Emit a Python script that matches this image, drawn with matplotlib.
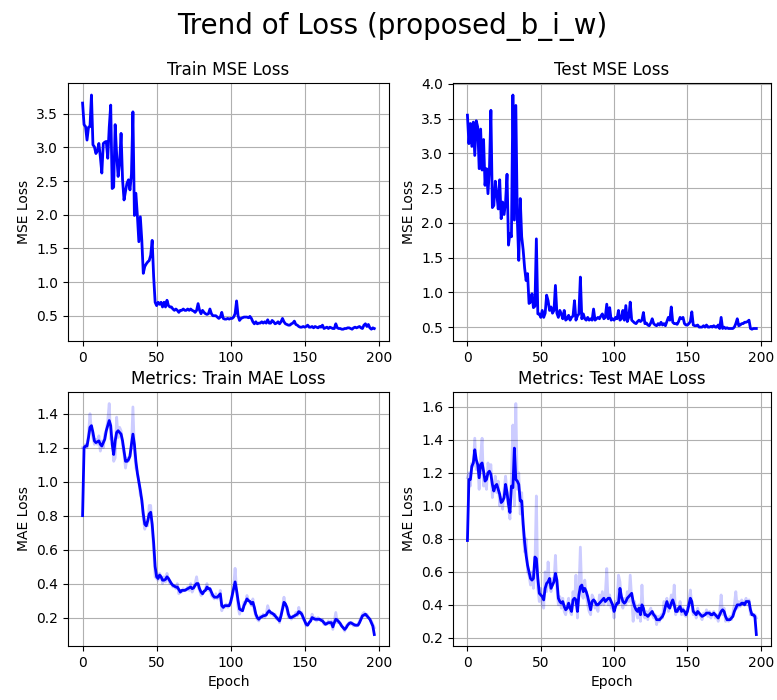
import matplotlib
matplotlib.use("Agg")
import matplotlib.pyplot as plt
import numpy as np

epochs = np.arange(198)

train_mse = [
    3.66, 3.34, 3.31, 3.11, 3.30, 3.31, 3.78, 3.04, 3.01, 2.91,
    2.95, 3.06, 2.86, 2.62, 3.06, 3.08, 3.09, 2.84, 3.30, 3.63,
    2.39, 2.41, 3.34, 2.90, 2.57, 2.77, 3.21, 2.52, 2.22, 2.35,
    2.47, 2.52, 2.37, 2.60, 3.53, 1.99, 2.32, 1.99, 1.60, 1.97,
    1.62, 1.13, 1.23, 1.27, 1.30, 1.32, 1.40, 1.62, 1.08, 0.70,
    0.65, 0.70, 0.67, 0.70, 0.63, 0.70, 0.63, 0.73, 0.65, 0.63,
    0.63, 0.60, 0.58, 0.60, 0.58, 0.55, 0.58, 0.58, 0.60, 0.58,
    0.58, 0.60, 0.58, 0.60, 0.58, 0.57, 0.55, 0.58, 0.68, 0.58,
    0.53, 0.58, 0.55, 0.53, 0.52, 0.53, 0.60, 0.53, 0.50, 0.50,
    0.50, 0.48, 0.46, 0.48, 0.55, 0.46, 0.45, 0.45, 0.46, 0.45,
    0.46, 0.46, 0.48, 0.53, 0.72, 0.50, 0.43, 0.46, 0.47, 0.48,
    0.48, 0.48, 0.47, 0.49, 0.46, 0.41, 0.38, 0.41, 0.38, 0.39,
    0.39, 0.41, 0.39, 0.41, 0.39, 0.44, 0.39, 0.39, 0.43, 0.41,
    0.38, 0.39, 0.41, 0.38, 0.41, 0.46, 0.41, 0.38, 0.37, 0.36,
    0.36, 0.38, 0.39, 0.42, 0.37, 0.36, 0.34, 0.33, 0.33, 0.34,
    0.33, 0.34, 0.36, 0.33, 0.33, 0.34, 0.32, 0.34, 0.33, 0.32,
    0.34, 0.33, 0.36, 0.31, 0.32, 0.33, 0.31, 0.33, 0.32, 0.31,
    0.31, 0.38, 0.32, 0.31, 0.31, 0.30, 0.30, 0.31, 0.31, 0.32,
    0.32, 0.31, 0.30, 0.32, 0.33, 0.32, 0.33, 0.34, 0.32, 0.31,
    0.36, 0.38, 0.34, 0.37, 0.32, 0.30, 0.32, 0.31,
]

test_mse = [
    3.55, 3.14, 3.43, 3.10, 3.45, 2.97, 3.47, 3.38, 2.78, 3.35,
    2.76, 3.20, 2.54, 2.78, 2.42, 2.78, 3.62, 2.22, 2.25, 2.60,
    2.42, 2.20, 2.62, 2.06, 2.30, 2.12, 2.30, 2.70, 1.68, 1.85,
    1.80, 3.84, 2.04, 3.69, 2.06, 1.46, 2.35, 1.80, 1.61, 1.35,
    1.17, 1.27, 0.84, 0.86, 0.98, 0.78, 0.80, 1.77, 0.69, 0.69,
    0.64, 0.74, 0.64, 0.70, 0.96, 0.88, 0.74, 0.79, 0.70, 0.74,
    1.10, 0.70, 0.64, 0.74, 0.69, 0.62, 0.74, 0.60, 0.62, 0.67,
    0.60, 0.64, 0.66, 0.88, 0.60, 0.66, 0.69, 1.22, 0.62, 0.69,
    0.62, 0.60, 0.64, 0.60, 0.62, 0.60, 0.76, 0.60, 0.62, 0.64,
    0.62, 0.66, 0.69, 0.62, 0.64, 0.83, 0.62, 0.78, 0.60, 0.62,
    0.60, 0.64, 0.62, 0.74, 0.60, 0.62, 0.74, 0.60, 0.81, 0.58,
    0.64, 0.86, 0.60, 0.58, 0.56, 0.55, 0.58, 0.60, 0.58, 0.60,
    0.71, 0.55, 0.56, 0.53, 0.52, 0.56, 0.62, 0.55, 0.53, 0.52,
    0.55, 0.53, 0.57, 0.53, 0.55, 0.52, 0.58, 0.64, 0.60, 0.79,
    0.57, 0.55, 0.55, 0.54, 0.58, 0.64, 0.62, 0.64, 0.55, 0.53,
    0.53, 0.55, 0.58, 0.72, 0.53, 0.52, 0.52, 0.53, 0.50, 0.50,
    0.50, 0.52, 0.50, 0.53, 0.50, 0.50, 0.51, 0.50, 0.52, 0.50,
    0.50, 0.53, 0.48, 0.64, 0.48, 0.50, 0.48, 0.49, 0.48, 0.48,
    0.48, 0.48, 0.50, 0.55, 0.62, 0.52, 0.53, 0.55, 0.55, 0.57,
    0.57, 0.58, 0.60, 0.48, 0.47, 0.48, 0.48, 0.48,
]

# per-epoch MAE (faint) and its smoothed curve (bold)
train_mae_raw = [
    1.20, 1.20, 1.22, 1.20, 1.28, 1.40, 1.30, 1.26, 1.22, 1.25,
    1.22, 1.27, 1.18, 1.24, 1.20, 1.28, 1.30, 1.36, 1.46, 1.25,
    1.26, 1.12, 1.14, 1.38, 1.26, 1.32, 1.30, 1.22, 1.16, 1.08,
    1.14, 1.12, 1.16, 1.20, 1.44, 1.18, 1.08, 1.06, 1.00, 0.92,
    0.90, 0.78, 0.72, 0.76, 0.74, 0.86, 0.86, 0.72, 0.60, 0.44,
    0.43, 0.42, 0.46, 0.44, 0.40, 0.44, 0.41, 0.46, 0.42, 0.40,
    0.40, 0.38, 0.39, 0.37, 0.40, 0.34, 0.36, 0.35, 0.37, 0.36,
    0.36, 0.38, 0.36, 0.40, 0.35, 0.37, 0.40, 0.44, 0.38, 0.36,
    0.33, 0.34, 0.35, 0.37, 0.40, 0.36, 0.37, 0.33, 0.32, 0.31,
    0.34, 0.31, 0.32, 0.36, 0.24, 0.27, 0.26, 0.28, 0.26, 0.27,
    0.30, 0.32, 0.38, 0.49, 0.36, 0.26, 0.22, 0.25, 0.24, 0.29,
    0.28, 0.33, 0.30, 0.29, 0.27, 0.31, 0.24, 0.21, 0.19, 0.18,
    0.21, 0.20, 0.22, 0.20, 0.22, 0.27, 0.24, 0.22, 0.23, 0.21,
    0.22, 0.19, 0.20, 0.17, 0.22, 0.26, 0.32, 0.27, 0.25, 0.20,
    0.21, 0.19, 0.21, 0.20, 0.23, 0.21, 0.26, 0.22, 0.23, 0.19,
    0.18, 0.15, 0.16, 0.17, 0.18, 0.22, 0.19, 0.20, 0.18, 0.20,
    0.19, 0.18, 0.19, 0.16, 0.17, 0.16, 0.18, 0.16, 0.18, 0.13,
    0.18, 0.23, 0.17, 0.18, 0.16, 0.15, 0.14, 0.12, 0.15, 0.16,
    0.17, 0.16, 0.17, 0.15, 0.16, 0.15, 0.16, 0.18, 0.20, 0.22,
    0.23, 0.21, 0.22, 0.20, 0.19, 0.18, 0.16, 0.14,
]

train_mae = [
    0.80, 1.20, 1.21, 1.21, 1.26, 1.32, 1.33, 1.29, 1.24, 1.23,
    1.235, 1.24, 1.22, 1.21, 1.23, 1.25, 1.30, 1.33, 1.36, 1.33,
    1.22, 1.16, 1.24, 1.29, 1.30, 1.29, 1.28, 1.24, 1.18, 1.12,
    1.12, 1.13, 1.15, 1.22, 1.28, 1.22, 1.12, 1.05, 1.00, 0.95,
    0.89, 0.81, 0.75, 0.74, 0.77, 0.81, 0.82, 0.75, 0.64, 0.50,
    0.44, 0.43, 0.45, 0.44, 0.42, 0.42, 0.425, 0.44, 0.43, 0.415,
    0.40, 0.39, 0.385, 0.38, 0.38, 0.365, 0.35, 0.36, 0.36, 0.36,
    0.365, 0.37, 0.375, 0.38, 0.37, 0.375, 0.39, 0.40, 0.40, 0.37,
    0.35, 0.34, 0.355, 0.36, 0.38, 0.37, 0.37, 0.35, 0.33, 0.32,
    0.32, 0.32, 0.33, 0.34, 0.27, 0.26, 0.27, 0.27, 0.27, 0.27,
    0.29, 0.33, 0.37, 0.41, 0.36, 0.30, 0.25, 0.245, 0.24, 0.27,
    0.29, 0.31, 0.30, 0.295, 0.28, 0.29, 0.26, 0.22, 0.20, 0.19,
    0.20, 0.205, 0.21, 0.212, 0.215, 0.23, 0.24, 0.23, 0.225, 0.22,
    0.21, 0.20, 0.19, 0.18, 0.21, 0.25, 0.29, 0.28, 0.26, 0.22,
    0.20, 0.20, 0.205, 0.21, 0.215, 0.22, 0.235, 0.23, 0.22, 0.20,
    0.18, 0.16, 0.155, 0.17, 0.18, 0.20, 0.195, 0.19, 0.19, 0.19,
    0.19, 0.185, 0.18, 0.17, 0.16, 0.165, 0.17, 0.17, 0.17, 0.145,
    0.17, 0.19, 0.185, 0.175, 0.165, 0.15, 0.14, 0.13, 0.14, 0.155,
    0.165, 0.17, 0.165, 0.16, 0.155, 0.155, 0.155, 0.17, 0.19, 0.21,
    0.215, 0.22, 0.21, 0.20, 0.19, 0.17, 0.15, 0.10,
]

test_mae_raw = [
    1.17, 1.20, 1.12, 1.26, 1.24, 1.41, 1.22, 1.25, 1.10, 1.30,
    1.41, 1.12, 1.15, 1.10, 1.26, 1.22, 1.25, 1.05, 1.12, 1.18,
    1.08, 1.15, 1.00, 1.05, 0.98, 1.10, 1.18, 1.08, 0.98, 0.92,
    1.18, 1.49, 1.00, 1.62, 1.10, 1.20, 0.95, 1.08, 0.85, 0.72,
    0.80, 0.60, 0.58, 0.52, 0.60, 0.50, 0.62, 1.06, 0.50, 0.42,
    0.50, 0.40, 0.38, 0.60, 0.48, 0.66, 0.52, 0.48, 0.56, 0.54,
    0.70, 0.50, 0.40, 0.45, 0.38, 0.44, 0.36, 0.34, 0.40, 0.44,
    0.36, 0.34, 0.48, 0.40, 0.58, 0.32, 0.48, 0.75, 0.46, 0.44,
    0.55, 0.46, 0.40, 0.36, 0.34, 0.46, 0.44, 0.38, 0.40, 0.36,
    0.46, 0.40, 0.48, 0.40, 0.46, 0.62, 0.40, 0.46, 0.38, 0.40,
    0.32, 0.42, 0.40, 0.58, 0.54, 0.42, 0.38, 0.44, 0.40, 0.48,
    0.42, 0.58, 0.44, 0.30, 0.42, 0.36, 0.32, 0.40, 0.30, 0.52,
    0.34, 0.32, 0.36, 0.31, 0.36, 0.38, 0.34, 0.32, 0.34, 0.28,
    0.33, 0.30, 0.34, 0.32, 0.42, 0.40, 0.44, 0.36, 0.40, 0.46,
    0.40, 0.52, 0.34, 0.38, 0.36, 0.42, 0.34, 0.38, 0.34, 0.33,
    0.38, 0.42, 0.49, 0.40, 0.34, 0.36, 0.32, 0.38, 0.34, 0.33,
    0.31, 0.35, 0.34, 0.37, 0.33, 0.36, 0.32, 0.35, 0.36, 0.32,
    0.34, 0.30, 0.36, 0.46, 0.34, 0.38, 0.30, 0.32, 0.30, 0.33,
    0.31, 0.35, 0.40, 0.48, 0.38, 0.42, 0.39, 0.43, 0.40, 0.42,
    0.44, 0.40, 0.43, 0.34, 0.35, 0.33, 0.34, 0.32,
]

test_mae = [
    0.79, 1.16, 1.16, 1.24, 1.26, 1.34, 1.28, 1.25, 1.17, 1.25,
    1.26, 1.21, 1.15, 1.16, 1.20, 1.21, 1.19, 1.13, 1.09, 1.12,
    1.13, 1.10, 1.07, 1.02, 1.03, 1.05, 1.13, 1.08, 1.01, 0.96,
    1.12, 1.11, 1.35, 1.16, 1.15, 1.13, 1.03, 1.03, 0.89, 0.78,
    0.70, 0.64, 0.60, 0.56, 0.55, 0.56, 0.69, 0.68, 0.56, 0.47,
    0.46, 0.45, 0.43, 0.50, 0.53, 0.54, 0.56, 0.50, 0.52, 0.54,
    0.59, 0.55, 0.44, 0.42, 0.41, 0.42, 0.39, 0.37, 0.38, 0.41,
    0.38, 0.36, 0.43, 0.44, 0.43, 0.36, 0.46, 0.51, 0.52, 0.48,
    0.50, 0.48, 0.45, 0.41, 0.37, 0.42, 0.43, 0.42, 0.40, 0.40,
    0.41, 0.42, 0.43, 0.44, 0.42, 0.43, 0.44, 0.44, 0.42, 0.40,
    0.36, 0.39, 0.41, 0.41, 0.50, 0.45, 0.42, 0.41, 0.42, 0.44,
    0.45, 0.46, 0.47, 0.42, 0.39, 0.37, 0.36, 0.38, 0.34, 0.40,
    0.38, 0.34, 0.34, 0.33, 0.34, 0.35, 0.36, 0.34, 0.33, 0.31,
    0.31, 0.31, 0.32, 0.33, 0.35, 0.39, 0.42, 0.39, 0.38, 0.41,
    0.43, 0.40, 0.36, 0.36, 0.38, 0.39, 0.36, 0.37, 0.36, 0.34,
    0.36, 0.40, 0.44, 0.42, 0.36, 0.35, 0.34, 0.36, 0.35, 0.34,
    0.33, 0.335, 0.34, 0.35, 0.35, 0.35, 0.34, 0.34, 0.35, 0.34,
    0.33, 0.32, 0.34, 0.36, 0.37, 0.36, 0.33, 0.31, 0.31, 0.31,
    0.32, 0.33, 0.36, 0.38, 0.40, 0.40, 0.40, 0.41, 0.41, 0.40,
    0.42, 0.42, 0.42, 0.37, 0.34, 0.34, 0.33, 0.22,
]

fig, axes = plt.subplots(2, 2, figsize=(7.77, 7.0), dpi=100)
fig.suptitle('Trend of Loss (proposed_b_i_w)', fontsize=20, x=0.505, y=0.983)

ax = axes[0, 0]
ax.plot(epochs, train_mse, color='b', linewidth=2)
ax.set_title('Train MSE Loss')
ax.set_ylabel('MSE Loss')
ax.grid(True)

ax = axes[0, 1]
ax.plot(epochs, test_mse, color='b', linewidth=2)
ax.set_title('Test MSE Loss')
ax.set_ylabel('MSE Loss')
ax.grid(True)

ax = axes[1, 0]
ax.plot(epochs, train_mae_raw, color='b', alpha=0.2, linewidth=2)
ax.plot(epochs, train_mae, color='b', linewidth=2)
ax.set_title('Metrics: Train MAE Loss')
ax.set_ylabel('MAE Loss')
ax.set_xlabel('Epoch')
ax.grid(True)

ax = axes[1, 1]
ax.plot(epochs, test_mae_raw, color='b', alpha=0.2, linewidth=2)
ax.plot(epochs, test_mae, color='b', linewidth=2)
ax.set_title('Metrics: Test MAE Loss')
ax.set_ylabel('MAE Loss')
ax.set_xlabel('Epoch')
ax.grid(True)

axes[0, 0].set_position([0.0875, 0.513, 0.413, 0.368])
axes[0, 1].set_position([0.583, 0.513, 0.409, 0.368])
axes[1, 0].set_position([0.0875, 0.077, 0.413, 0.363])
axes[1, 1].set_position([0.583, 0.077, 0.409, 0.363])

fig.savefig('out.png', dpi=100)
